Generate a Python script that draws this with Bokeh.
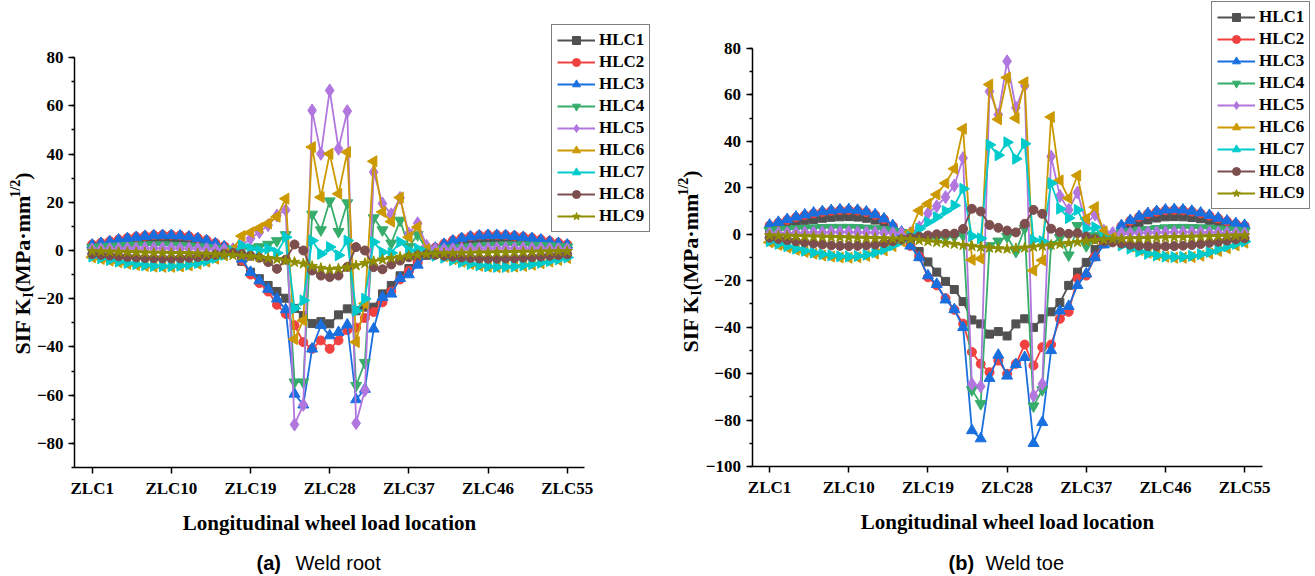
import numpy as np
from bokeh.plotting import figure
from bokeh.models import (Range1d, FixedTicker, SingleIntervalTicker, Legend,
                          LegendItem, Label, ColumnDataSource)
from bokeh.layouts import row
from bokeh.embed import file_html
from bokeh.resources import INLINE

# ---------------- data ----------------
zlc = list(range(1, 56))
x_tick_values = [1, 10, 19, 28, 37, 46, 55]
x_tick_labels = ["ZLC1", "ZLC10", "ZLC19", "ZLC28", "ZLC37", "ZLC46", "ZLC55"]
series_names = ["HLC1", "HLC2", "HLC3", "HLC4", "HLC5", "HLC6", "HLC7", "HLC8", "HLC9"]

# (a) Weld root
root_hlc1 = [1.5, 2.0, 2.4, 2.8, 3.2, 3.5, 3.8, 4.0, 4.1, 4.1, 4.0, 3.8, 3.4, 2.8, 2.0, 1.2,
             -0.5, -4.5, -9.0, -11.7, -14.5, -17.0, -19.8, -24.0, -27.0, -30.3, -29.5, -30.4, -26.7, -24.2,
             -25.0, -23.5, -23.5, -18.0, -14.5, -10.5, -7.5, -4.5, -2.0, 0.0,
             1.0, 1.8, 2.5, 3.1, 3.6, 3.9, 4.1, 4.1, 4.0, 3.7, 3.4, 3.0, 2.6, 2.1, 1.6]
root_hlc2 = [2.5, 3.2, 3.9, 4.6, 5.2, 5.7, 6.1, 6.4, 6.5, 6.5, 6.3, 5.9, 5.2, 4.3, 3.1, 1.8,
             0.0, -4.0, -10.0, -13.5, -17.0, -22.5, -26.3, -31.0, -38.0, -40.8, -37.3, -40.8, -37.3, -33.0,
             -32.0, -28.0, -25.5, -21.5, -17.0, -12.0, -8.5, -5.0, -1.5, 1.2,
             2.8, 4.2, 5.2, 5.9, 6.3, 6.5, 6.5, 6.4, 6.1, 5.7, 5.2, 4.6, 3.9, 3.2, 2.5]
root_hlc3 = [2.3, 3.0, 3.7, 4.4, 5.0, 5.5, 5.9, 6.2, 6.3, 6.3, 6.1, 5.7, 5.0, 4.1, 2.9, 1.6,
             0.0, -3.5, -9.0, -12.5, -16.0, -20.0, -24.5, -59.5, -64.0, -40.8, -31.0, -35.3, -33.9, -30.8,
             -61.8, -57.5, -32.5, -19.4, -18.0, -11.5, -10.0, -6.0, -2.0, 1.0,
             2.6, 4.0, 5.0, 5.7, 6.1, 6.3, 6.3, 6.2, 5.9, 5.5, 5.0, 4.4, 3.7, 3.0, 2.3]
root_hlc4 = [1.2, 1.4, 1.6, 1.8, 2.0, 2.1, 2.2, 2.2, 2.2, 2.1, 2.0, 1.8, 1.5, 1.2, 0.9, 0.6,
             0.5, 0.5, 1.0, 1.5, 2.5, 4.0, 6.5, -54.6, -54.6, 15.0, 8.5, 20.5, 7.8, 19.7,
             -56.0, -46.5, 13.5, 8.5, 3.0, 12.5, 1.5, 6.5, 0.5, 0.5,
             0.6, 0.9, 1.2, 1.5, 1.8, 2.0, 2.1, 2.2, 2.2, 2.2, 2.1, 2.0, 1.8, 1.6, 1.4]
root_hlc5 = [0.4, 0.5, 0.6, 0.7, 0.8, 0.8, 0.9, 0.9, 0.9, 0.9, 0.8, 0.8, 0.7, 0.6, 0.5, 0.4,
             0.5, 2.0, 5.0, 7.6, 10.5, 14.5, 16.8, -72.2, -64.0, 58.1, 40.1, 66.4, 42.2, 57.8,
             -71.6, -58.0, 32.5, 19.5, 15.0, 21.8, 7.0, 11.3, 2.0, 0.5,
             0.4, 0.5, 0.6, 0.7, 0.8, 0.8, 0.9, 0.9, 0.9, 0.9, 0.8, 0.8, 0.7, 0.6, 0.5]
root_hlc6 = [-2.8, -3.5, -4.2, -4.9, -5.5, -6.0, -6.4, -6.7, -6.8, -6.8, -6.6, -6.2, -5.5, -4.6, -3.4, -2.0,
             0.5, 6.0, 7.5, 9.3, 11.2, 14.0, 21.5, -36.8, -29.0, 42.9, 22.1, 40.1, 23.5, 40.8,
             -38.0, -22.0, 37.0, 16.0, 12.0, 22.0, 5.5, 9.7, 0.5, -1.0,
             -2.4, -3.6, -4.7, -5.6, -6.3, -6.7, -6.9, -6.9, -6.7, -6.4, -5.9, -5.3, -4.6, -3.9, -3.1]
root_hlc7 = [-2.5, -3.2, -3.9, -4.6, -5.2, -5.7, -6.1, -6.4, -6.5, -6.5, -6.3, -5.9, -5.2, -4.3, -3.1, -1.8,
             -0.5, 2.0, 0.7, 0.0, 0.7, -1.0, 5.5, -24.0, -20.7, 4.1, -1.4, 1.4, -2.0, 4.1,
             -25.0, -20.0, 3.5, -0.7, -1.0, 3.5, 0.0, 0.7, -1.0, -2.2,
             -3.0, -4.0, -4.9, -5.6, -6.2, -6.6, -6.8, -6.8, -6.6, -6.2, -5.7, -5.1, -4.4, -3.7, -2.9]
root_hlc8 = [-1.5, -1.8, -2.1, -2.4, -2.7, -2.9, -3.1, -3.2, -3.3, -3.3, -3.2, -3.0, -2.7, -2.3, -1.8, -1.3,
             -1.0, -1.5, -2.2, -3.0, -4.8, -7.6, -3.8, 2.5, 0.0, -8.3, -10.4, -11.0, -10.4, -6.8,
             1.4, 0.0, -6.9, -7.8, -5.8, -4.2, -2.8, -2.0, -1.6, -1.8,
             -2.2, -2.6, -2.9, -3.1, -3.3, -3.4, -3.4, -3.3, -3.2, -3.0, -2.8, -2.5, -2.2, -1.9, -1.6]
root_hlc9 = [-0.3, -0.4, -0.5, -0.6, -0.7, -0.8, -0.9, -1.0, -1.0, -1.1, -1.1, -1.2, -1.3, -1.4, -1.6, -1.8,
             -2.0, -2.2, -2.5, -2.8, -3.2, -3.6, -4.2, -4.8, -5.5, -6.5, -7.3, -7.8, -7.5, -7.0,
             -6.2, -5.3, -4.5, -3.8, -3.2, -2.7, -2.2, -1.8, -1.5, -1.3,
             -1.2, -1.1, -1.0, -1.0, -0.9, -0.9, -0.8, -0.8, -0.7, -0.6, -0.6, -0.5, -0.4, -0.3, -0.3]

# (b) Weld toe
toe_hlc1 = [2.5, 3.4, 4.3, 5.1, 5.8, 6.4, 6.9, 7.3, 7.5, 7.6, 7.4, 6.9, 6.1, 5.0, 2.5, 0.3,
            -3.5, -7.4, -11.9, -16.3, -20.3, -23.8, -29.0, -36.9, -38.6, -43.0, -41.9, -43.8, -38.6, -36.4,
            -40.1, -36.4, -33.4, -29.4, -22.0, -16.3, -12.1, -6.6, -3.0, -1.0,
            1.5, 3.5, 5.0, 6.2, 7.0, 7.5, 7.6, 7.5, 7.2, 6.7, 6.0, 5.2, 4.3, 3.4, 2.5]
toe_hlc2 = [3.8, 5.0, 6.2, 7.3, 8.2, 9.0, 9.6, 10.1, 10.4, 10.5, 10.2, 9.5, 8.3, 6.5, 3.5, 0.8,
            -5.0, -9.5, -18.5, -22.0, -27.5, -32.5, -38.5, -50.7, -55.8, -59.4, -54.4, -60.1, -55.8, -47.5,
            -56.5, -48.6, -47.5, -36.4, -33.4, -19.0, -17.8, -9.6, -4.0, -1.0,
            3.5, 5.8, 7.5, 8.8, 9.7, 10.3, 10.5, 10.3, 9.8, 9.0, 8.0, 6.8, 5.6, 4.5, 3.7]
toe_hlc3 = [4.0, 5.2, 6.4, 7.5, 8.4, 9.2, 9.8, 10.3, 10.6, 10.7, 10.4, 9.7, 8.5, 6.7, 3.8, 1.0,
            -5.0, -10.0, -17.8, -21.5, -28.2, -32.4, -40.1, -84.5, -88.0, -62.0, -52.0, -61.0, -56.0, -53.0,
            -90.0, -81.0, -50.0, -33.0, -31.0, -22.0, -17.0, -10.0, -4.5, -1.0,
            3.8, 6.0, 7.7, 9.0, 9.9, 10.5, 10.7, 10.5, 10.0, 9.2, 8.2, 7.0, 5.8, 4.7, 3.9]
toe_hlc4 = [1.5, 1.8, 2.1, 2.3, 2.5, 2.7, 2.8, 2.9, 2.9, 2.9, 2.8, 2.6, 2.3, 1.9, 1.3, 0.6,
            0.0, -1.0, -1.5, -1.5, -1.5, -1.0, -0.5, -67.0, -73.0, -5.0, -3.0, -1.0, -7.5, 2.5,
            -74.0, -67.0, -4.5, -1.5, -9.0, 3.7, -5.0, -0.5, -1.5, -0.5,
            0.5, 1.1, 1.6, 2.0, 2.4, 2.7, 2.8, 2.9, 2.8, 2.7, 2.5, 2.2, 1.9, 1.6, 1.3]
toe_hlc5 = [0.3, 0.4, 0.5, 0.6, 0.7, 0.8, 0.8, 0.9, 0.9, 0.9, 0.8, 0.8, 0.7, 0.6, 0.5, 0.4,
            0.5, 3.0, 9.0, 12.1, 16.0, 21.0, 32.8, -64.5, -65.5, 61.5, 51.5, 74.5, 54.5, 64.0,
            -69.5, -64.5, 33.5, 16.5, 10.5, 18.0, 4.5, 8.5, 1.5, 0.5,
            0.4, 0.5, 0.6, 0.7, 0.8, 0.8, 0.9, 0.9, 0.9, 0.8, 0.8, 0.7, 0.6, 0.5, 0.4]
toe_hlc6 = [-3.5, -4.6, -5.7, -6.7, -7.6, -8.4, -9.1, -9.6, -10.0, -10.1, -9.9, -9.3, -8.3, -6.9, -5.1, -3.0,
            1.0, 10.2, 13.1, 17.1, 22.0, 28.2, 45.4, -11.0, -10.5, 64.5, 49.5, 67.5, 50.0, 65.5,
            -15.6, -11.2, 50.5, 23.2, 15.5, 25.3, 6.7, 11.7, 1.2, -1.5,
            -3.5, -5.3, -6.8, -8.0, -9.0, -9.7, -10.1, -10.1, -9.8, -9.2, -8.3, -7.2, -6.0, -4.8, -3.6]
toe_hlc7 = [-3.0, -4.1, -5.2, -6.2, -7.1, -7.9, -8.6, -9.1, -9.5, -9.6, -9.4, -8.8, -7.8, -6.5, -4.8, -2.8,
            -1.0, 2.4, 5.2, 7.4, 10.0, 12.4, 19.6, -0.8, -1.8, 38.5, 34.0, 39.6, 32.5, 39.0,
            -2.5, -3.0, 22.0, 11.0, 7.0, 10.5, 2.5, 3.0, -1.5, -3.0,
            -4.8, -6.2, -7.4, -8.4, -9.1, -9.6, -9.8, -9.7, -9.3, -8.6, -7.6, -6.4, -5.2, -4.1, -3.1]
toe_hlc8 = [-1.5, -2.0, -2.5, -3.0, -3.5, -4.0, -4.4, -4.8, -5.0, -5.1, -5.0, -4.8, -4.4, -3.8, -3.0, -2.2,
            -1.5, -1.0, -0.5, 0.0, 0.2, 0.3, 2.3, 11.0, 9.8, 4.0, 2.8, 1.6, 0.8, 4.5,
            10.5, 8.8, 2.4, 0.9, 0.2, 0.5, -1.0, -2.0, -3.0, -3.5,
            -4.0, -4.5, -4.9, -5.1, -5.2, -5.2, -5.1, -4.9, -4.6, -4.2, -3.7, -3.2, -2.7, -2.2, -1.7]
toe_hlc9 = [-0.5, -0.6, -0.7, -0.8, -0.9, -1.0, -1.1, -1.2, -1.3, -1.4, -1.5, -1.6, -1.7, -1.8, -1.9, -2.0,
            -2.2, -2.6, -3.0, -3.4, -3.8, -4.2, -4.7, -5.1, -5.5, -5.8, -6.1, -6.3, -6.1, -5.8,
            -5.4, -5.0, -4.6, -4.2, -3.8, -3.4, -3.0, -2.6, -2.3, -2.0,
            -1.9, -1.8, -1.7, -1.6, -1.5, -1.4, -1.3, -1.2, -1.1, -1.0, -0.9, -0.8, -0.7, -0.6, -0.5]

root_series = [root_hlc1, root_hlc2, root_hlc3, root_hlc4, root_hlc5,
               root_hlc6, root_hlc7, root_hlc8, root_hlc9]
toe_series = [toe_hlc1, toe_hlc2, toe_hlc3, toe_hlc4, toe_hlc5,
              toe_hlc6, toe_hlc7, toe_hlc8, toe_hlc9]

# ---------------- styles ----------------
COLORS = ["#515151", "#F14040", "#1A6FDF", "#37AD6B", "#B177DE",
          "#CC9900", "#00CBCC", "#7D4E4E", "#8E8E00"]
MARKERS = [("square", 0.0, 8), ("circle", 0.0, 9), ("triangle", 0.0, 11),
           ("inverted_triangle", 0.0, 11), ("diamond", 0.0, 13),
           ("triangle", np.pi / 2, 11), ("triangle", -np.pi / 2, 11),
           ("circle", 0.0, 9), ("star", 0.0, 11)]
SERIF = "Liberation Serif"
SANS = "Liberation Sans"
H = 576
X_LO, X_HI = -1, 57


def add_ytitle(p, x_mid, y_start):
    # (text, font px, offset across the line, advance in em)
    pieces = [("SIF K", 22, 0, 2.584), ("I", 14, 6, 0.389),
              ("(MPa\u00b7mm", 22, 0, 4.304), ("1/2", 14, -7, 1.278), (")", 22, 0, 0.333)]
    y = y_start
    for text, size, dx, em in pieces:
        p.add_layout(Label(x=x_mid + dx, y=y, x_units="screen", y_units="screen",
                           text=text, angle=np.pi / 2, text_font=SERIF,
                           text_font_style="bold", text_font_size=f"{size}px",
                           text_color="black", text_align="left",
                           text_baseline="middle"))
        y += em * size


def make_panel(series, y_lo, y_hi, width, ax_left, ax_right, ax_top, ax_bottom,
               legend_left, legend_bottom, ytitle_x, ytitle_bottom,
               cap_bold, cap_text, cap_x, cap_x2, cap_mid):
    # frame covers the whole canvas; axes sit at fixed data locations
    kx = (ax_right - ax_left) / (X_HI - X_LO)
    ky = (ax_bottom - ax_top) / (y_hi - y_lo)
    xr = Range1d(X_LO - ax_left / kx, X_HI + (width - ax_right) / kx)
    yr = Range1d(y_lo - (H - ax_bottom) / ky, y_hi + ax_top / ky)
    p = figure(width=width, height=H, output_backend="svg", toolbar_location=None,
               x_range=xr, y_range=yr, min_border=0,
               min_border_left=0, min_border_right=0, min_border_top=0,
               min_border_bottom=0)
    p.outline_line_color = None
    p.xgrid.visible = False
    p.ygrid.visible = False
    p.background_fill_color = "white"
    p.border_fill_color = "white"

    items = []
    for i, ys in enumerate(series):
        src = ColumnDataSource(dict(x=zlc, y=ys))
        lr = p.line("x", "y", source=src, color=COLORS[i], line_width=1.8)
        mk, ang, sz = MARKERS[i]
        sr = p.scatter("x", "y", source=src, marker=mk, angle=ang, angle_units="rad",
                       size=sz, fill_color=COLORS[i], line_color=COLORS[i])
        items.append(LegendItem(label=series_names[i], renderers=[lr, sr]))

    legend = Legend(items=items, location=(legend_left, H - legend_bottom))
    legend.label_text_font = SERIF
    legend.label_text_font_style = "bold"
    legend.label_text_font_size = "17px"
    legend.label_text_color = "black"
    legend.border_line_color = "black"
    legend.border_line_width = 1
    legend.background_fill_color = "white"
    legend.background_fill_alpha = 1.0
    legend.glyph_width = 38
    legend.glyph_height = 20
    legend.label_height = 20
    legend.spacing = 2
    legend.padding = 5
    legend.margin = 0
    legend.label_standoff = 4
    p.add_layout(legend)

    xa = p.xaxis[0]
    ya = p.yaxis[0]
    xa.fixed_location = y_lo
    xa.bounds = (X_LO, X_HI)
    ya.fixed_location = X_LO
    ya.bounds = (y_lo, y_hi)
    for ax in (xa, ya):
        ax.axis_line_width = 1.5
        ax.axis_line_color = "black"
        ax.major_tick_line_width = 1.5
        ax.minor_tick_line_width = 1.5
        ax.major_tick_out = 6
        ax.major_tick_in = 0
        ax.minor_tick_out = 3
        ax.minor_tick_in = 0
        ax.major_label_text_font = SERIF
        ax.major_label_text_font_style = "bold"
        ax.major_label_text_font_size = "17px"
        ax.major_label_text_color = "black"

    xa.ticker = FixedTicker(ticks=x_tick_values, minor_ticks=[])
    xa.major_label_overrides = {v: l for v, l in zip(x_tick_values, x_tick_labels)}
    xa.axis_label = "Longitudinal wheel load location"
    xa.axis_label_text_font = SERIF
    xa.axis_label_text_font_style = "bold"
    xa.axis_label_text_font_size = "21px"
    xa.axis_label_text_color = "black"
    xa.axis_label_standoff = 10
    xa.major_label_standoff = 5

    ya.ticker = SingleIntervalTicker(interval=20, num_minor_ticks=2)
    ya.major_label_standoff = 5

    add_ytitle(p, ytitle_x, H - ytitle_bottom)

    p.add_layout(Label(x=cap_x, y=H - cap_mid, x_units="screen", y_units="screen",
                       text=cap_bold, text_font=SANS, text_font_style="bold",
                       text_font_size="20px", text_color="black",
                       text_baseline="middle"))
    p.add_layout(Label(x=cap_x2, y=H - cap_mid, x_units="screen", y_units="screen",
                       text=cap_text, text_font=SANS, text_font_style="normal",
                       text_font_size="20px", text_color="black",
                       text_baseline="middle"))
    return p


left = make_panel(root_series, -90, 80, 660, 74.1, 584.3, 57.1, 467.0,
                  551, 232, 22, 354, "(a)", "Weld root", 256, 295, 562)
right = make_panel(toe_series, -100, 80, 655, 91.5, 601.7, 48.0, 466.0,
                   551, 209, 30, 352, "(b)", "Weld toe", 288, 325, 562)

layout = row(left, right)
open("out.html", "w").write(file_html(layout, INLINE))
